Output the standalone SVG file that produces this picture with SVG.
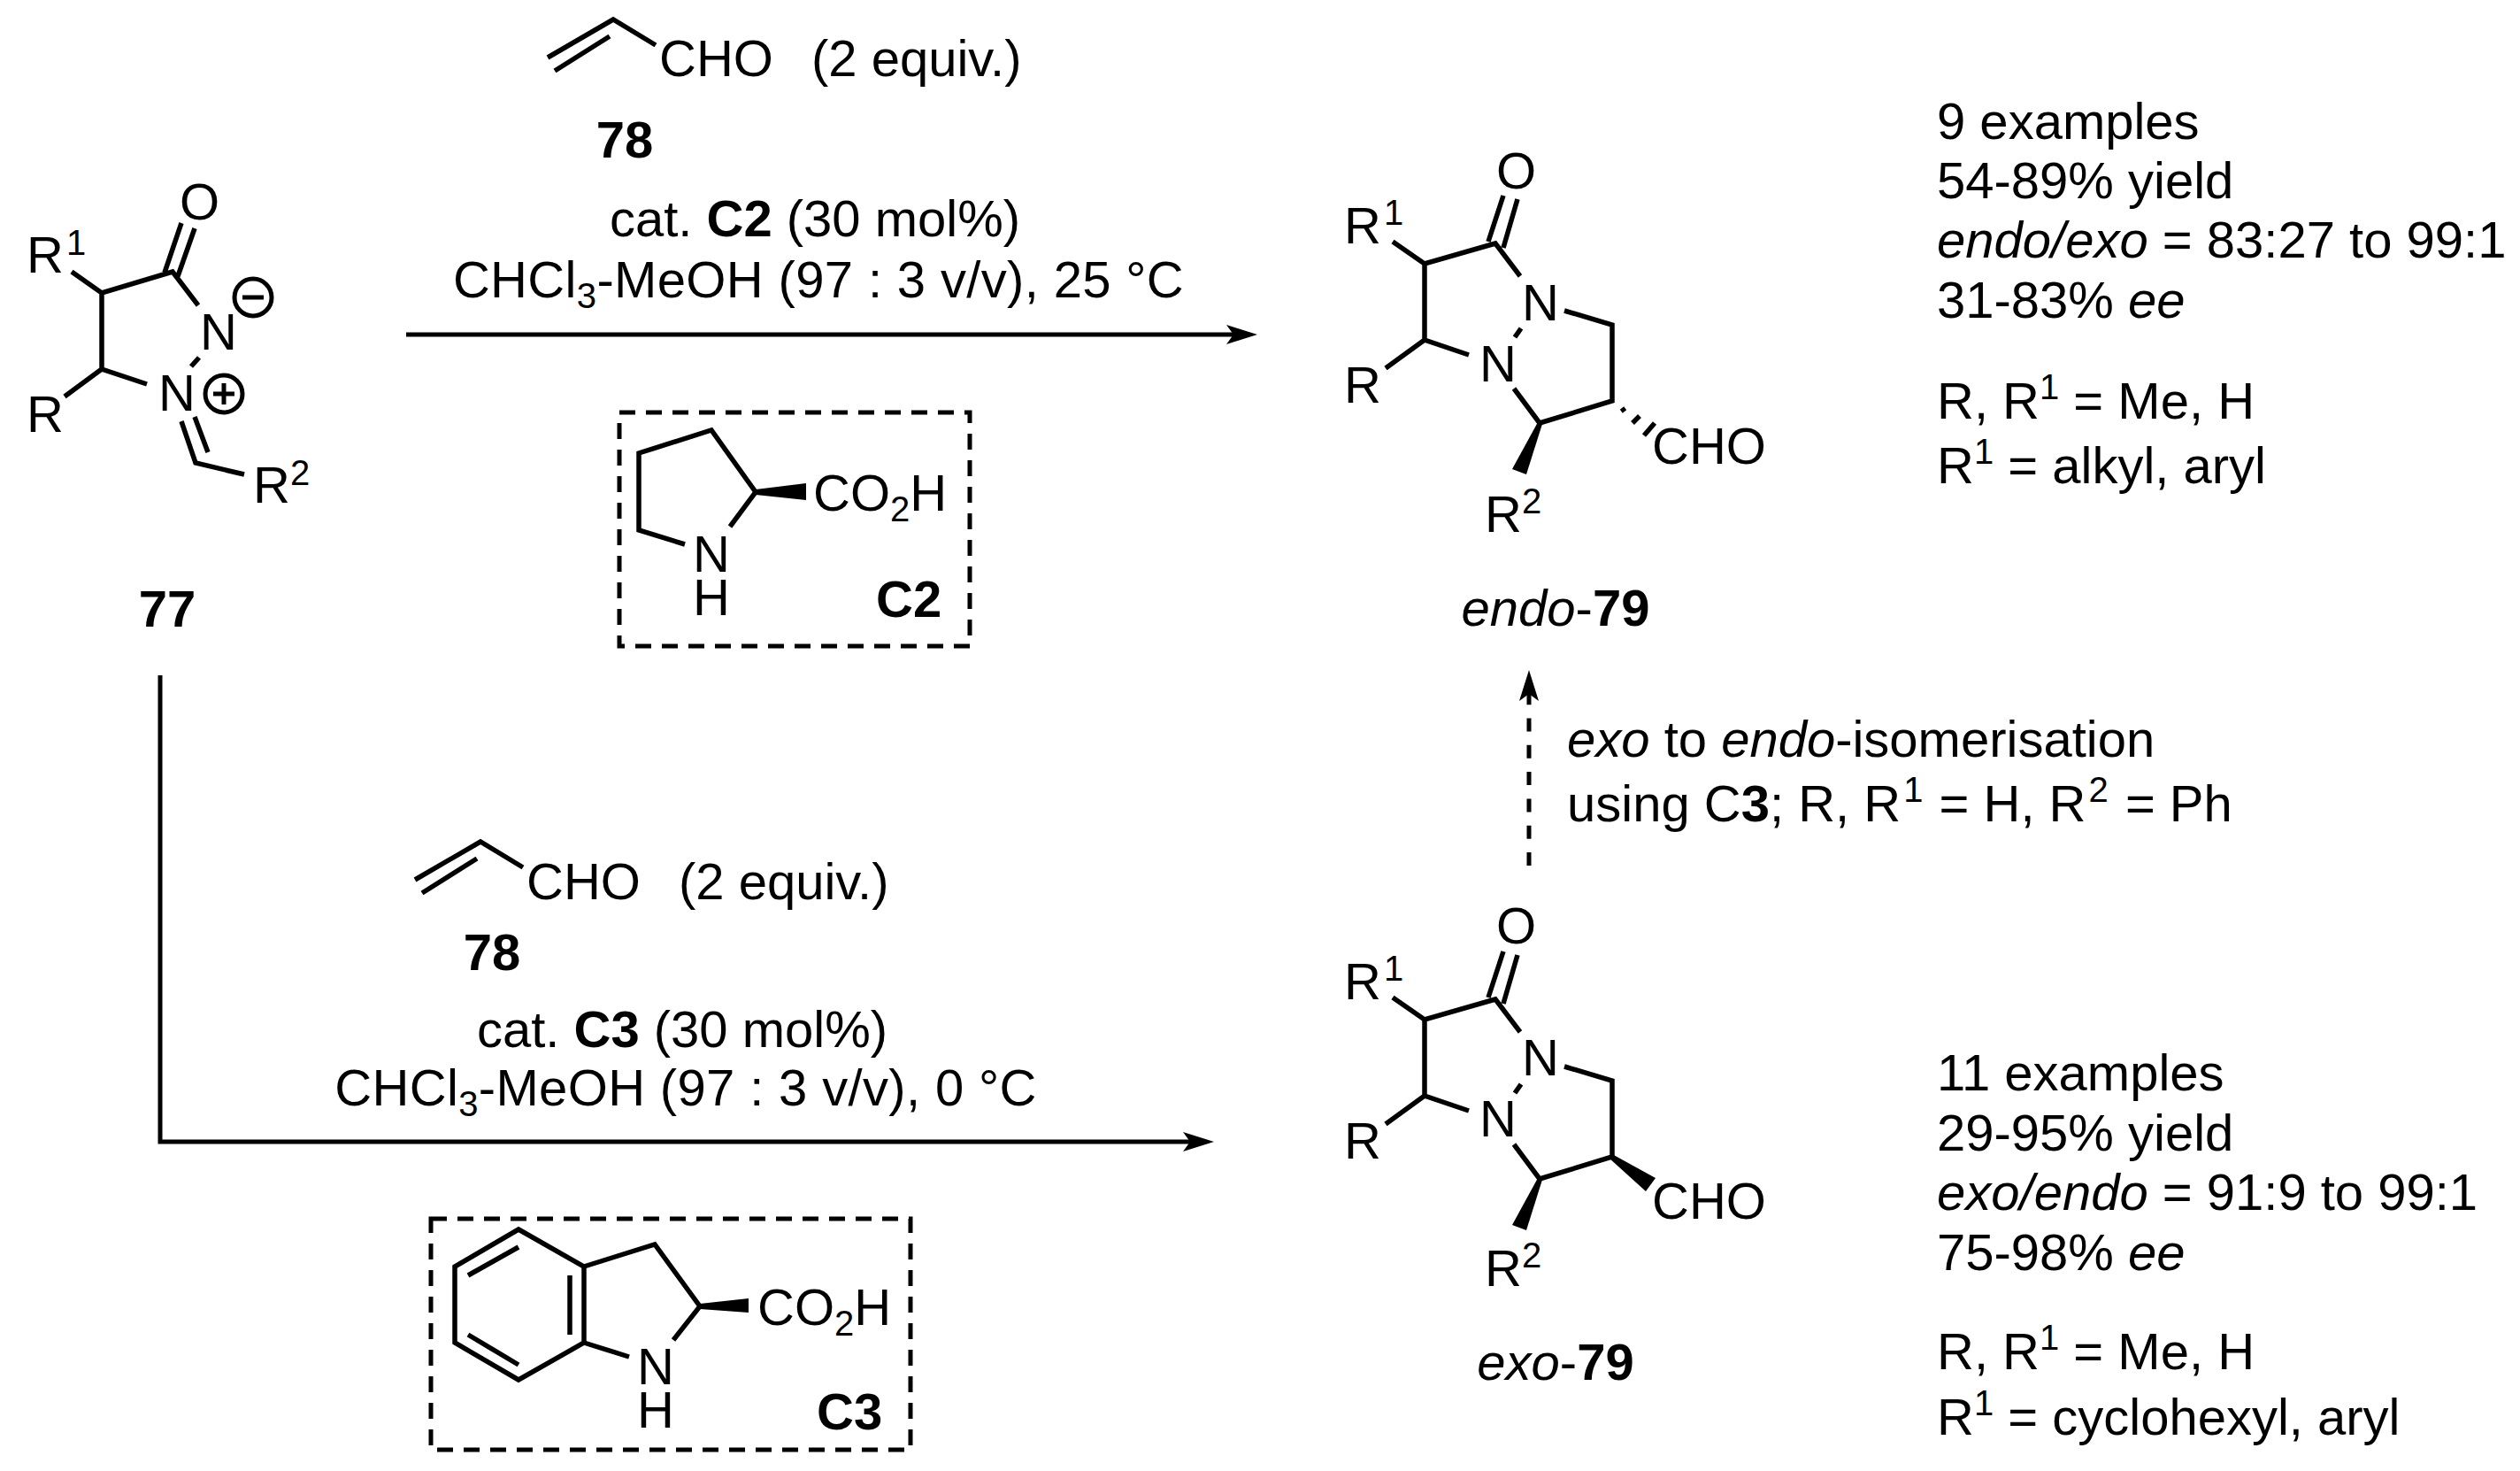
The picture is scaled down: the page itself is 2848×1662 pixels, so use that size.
<svg xmlns="http://www.w3.org/2000/svg" width="2848" height="1662" viewBox="0 0 2848 1662">
<style>
text{font-family:"Liberation Sans",Arial,sans-serif;font-size:58px;fill:#000}
.b{font-weight:700}
.i{font-style:italic}
.m{text-anchor:middle}
.ls{letter-spacing:.35px}
.bond{fill:none;stroke:#000;stroke-width:5.5}
.thin{fill:none;stroke:#000;stroke-width:5}
.box{fill:none;stroke:#000;stroke-width:5;stroke-dasharray:18 12}
.w{fill:#000;stroke:none}
.s{font-size:40px}
</style>
<defs>
<marker id="ah" markerUnits="userSpaceOnUse" markerWidth="40" markerHeight="24" refX="8" refY="11" orient="auto"><path d="M0,0L35,11L0,22L8,11Z" fill="#000"/></marker>
</defs>
<rect width="2848" height="1662" fill="#fff"/>
<g id="connectors">
<path class="thin" d="M459,378H1394" marker-end="url(#ah)"/>
<path class="thin" d="M181,763V1290H1345" marker-end="url(#ah)"/>
<path class="thin" d="M1728,978V784" stroke-dasharray="15 15.3" marker-end="url(#ah)"/>
</g>
<g id="n77">
<path class="bond" d="M81,307L115,331L195,307L224,345M115,331V417L166,434M115,417L73,448M186,308L205,252M201,312L220,258M225,404L216,414M205,476L221,523L276,536M220,471L235,511"/>
<text x="30" y="308">R</text><text class="s" x="75" y="288">1</text>
<text x="30" y="488">R</text>
<text x="203" y="248">O</text>
<text x="226" y="395">N</text>
<text x="179" y="464">N</text>
<circle class="thin" cx="286" cy="336" r="21"/><path class="thin" d="M274,336H298"/>
<circle class="thin" cx="253" cy="445" r="21"/><path class="thin" d="M241,445H265M253,433V457"/>
<text x="286" y="568">R</text><text class="s" x="328" y="548">2</text>
<text class="b m" x="189" y="708">77</text>
</g>
<g id="n78a">
<path class="bond" d="M619,65L693,22L741,51M627,80L689,41"/>
<text x="745" y="86">CHO</text><text x="917" y="86">(2 equiv.)</text>
<text class="b m" x="706" y="178">78</text>
</g>
<g id="cond1">
<text class="m" x="921" y="267">cat. <tspan class="b">C2</tspan> (30 mol%)</text>
<text class="m ls" x="925" y="336">CHCl<tspan class="s" dy="12">3</tspan><tspan dy="-12">-MeOH (97 : 3 v/v), 25 °C</tspan></text>
</g>
<g id="C2" transform="translate(-3,-3)">
<rect class="box" x="703" y="469" width="396" height="264"/>
<path class="bond" d="M777,618L725,602V515L807,489L857,559L828,598"/>
<path class="w" d="M857,556L914,549V568L857,562Z"/>
<text x="922" y="580">CO<tspan class="s" dy="12">2</tspan><tspan dy="-12">H</tspan></text>
<text class="m" x="807" y="649">N</text><text class="m" x="807" y="698">H</text>
<text class="b" x="993" y="700">C2</text>
</g>
<g id="endo79">
<path class="bond" d="M1574,273L1610,298L1690,275L1718,312M1610,298V384L1660,401M1610,384L1566,416M1682,273L1699,221M1699,280L1715,225M1719,371L1712,381M1768,351L1822,367V453L1740,478L1711,439M1833,461L1836,465M1845,478L1853,470M1858,492L1870,478"/>
<path class="w" d="M1738,477L1743,479L1725,536L1709,530Z"/>
<text x="1519" y="275">R</text><text class="s" x="1564" y="254">1</text>
<text x="1519" y="455">R</text>
<text x="1691" y="213">O</text>
<text x="1720" y="362">N</text><text x="1672" y="431">N</text>
<text x="1678" y="601">R</text><text class="s" x="1720" y="580">2</text>
<text x="1867" y="524">CHO</text>
<text class="m" x="1758" y="707"><tspan class="i">endo</tspan>-<tspan class="b">79</tspan></text>
</g>
<g id="exo79">
<path class="bond" d="M1574,1127L1610,1152L1690,1129L1718,1166M1610,1152V1238L1660,1255M1610,1238L1566,1270M1682,1127L1699,1075M1699,1134L1715,1079M1719,1225L1712,1235M1768,1205L1822,1221V1307L1740,1332L1711,1293"/>
<path class="w" d="M1738,1331L1743,1333L1725,1390L1709,1384Z"/>
<path class="w" d="M1818,1308L1822,1304L1871,1331L1860,1346Z"/>
<text x="1519" y="1129">R</text><text class="s" x="1564" y="1108">1</text>
<text x="1519" y="1309">R</text>
<text x="1691" y="1066">O</text>
<text x="1720" y="1215">N</text><text x="1672" y="1284">N</text>
<text x="1678" y="1453">R</text><text class="s" x="1720" y="1432">2</text>
<text x="1867" y="1377">CHO</text>
<text class="m" x="1758" y="1559"><tspan class="i">exo</tspan>-<tspan class="b">79</tspan></text>
</g>
<g id="iso">
<text x="1771" y="855"><tspan class="i">exo</tspan> to <tspan class="i">endo</tspan>-isomerisation</text>
<text x="1771" y="928">using C<tspan class="b">3</tspan>; R, R<tspan class="s" dx="3" dy="-22">1</tspan><tspan dy="22" dx="2"> = H, R</tspan><tspan class="s" dx="3" dy="-22">2</tspan><tspan dy="22" dx="3"> = Ph</tspan></text>
</g>
<g id="n78b">
<path class="bond" d="M469,994L543,951L591,980M477,1009L539,970"/>
<text x="595" y="1016">CHO</text><text x="767" y="1016">(2 equiv.)</text>
<text class="b m" x="556" y="1096">78</text>
</g>
<g id="cond2">
<text class="m" x="771" y="1183">cat. <tspan class="b">C3</tspan> (30 mol%)</text>
<text class="m ls" x="775" y="1249">CHCl<tspan class="s" dy="12">3</tspan><tspan dy="-12">-MeOH (97 : 3 v/v), 0 °C</tspan></text>
</g>
<g id="C3">
<rect class="box" x="487" y="1377" width="542" height="261"/>
<path class="bond" d="M586,1389L660,1431V1517L586,1559L514,1517V1431ZM529,1441L586,1409M644,1441V1508M529,1508L586,1542M660,1431L740,1406L791,1476L761,1514M660,1517L711,1533"/>
<path class="w" d="M791,1473L846,1467V1483L791,1479Z"/>
<text x="856" y="1497">CO<tspan class="s" dy="12">2</tspan><tspan dy="-12">H</tspan></text>
<text class="m" x="741" y="1564">N</text><text class="m" x="741" y="1613">H</text>
<text class="b" x="923" y="1615">C3</text>
</g>
<g id="notes1">
<text x="2189" y="157">9 examples</text>
<text x="2189" y="224">54-89% yield</text>
<text x="2189" y="291"><tspan class="i">endo/exo</tspan> = 83:27 to 99:1</text>
<text x="2189" y="359">31-83% <tspan class="i">ee</tspan></text>
<text x="2189" y="473">R, R<tspan class="s" dy="-22">1</tspan><tspan dy="22"> = Me, H</tspan></text>
<text x="2189" y="546">R<tspan class="s" dy="-22">1</tspan><tspan dy="22"> = alkyl, aryl</tspan></text>
</g>
<g id="notes2">
<text x="2189" y="1232">11 examples</text>
<text x="2189" y="1300">29-95% yield</text>
<text x="2189" y="1367"><tspan class="i">exo/endo</tspan> = 91:9 to 99:1</text>
<text x="2189" y="1435">75-98% <tspan class="i">ee</tspan></text>
<text x="2189" y="1547">R, R<tspan class="s" dy="-22">1</tspan><tspan dy="22"> = Me, H</tspan></text>
<text x="2189" y="1621">R<tspan class="s" dy="-22">1</tspan><tspan dy="22"> = cyclohexyl, aryl</tspan></text>
</g>
</svg>
